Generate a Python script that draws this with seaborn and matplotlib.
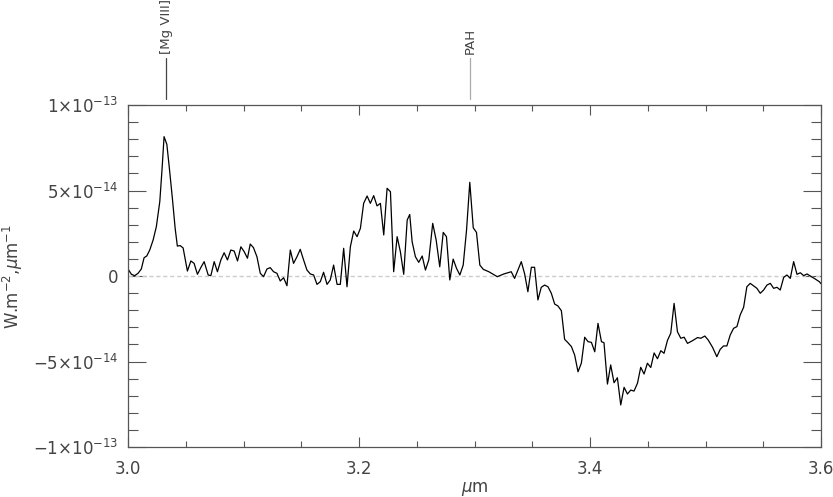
import matplotlib
matplotlib.use('Agg')
import matplotlib.pyplot as plt
import matplotlib.transforms as mtransforms
from matplotlib.ticker import MultipleLocator, FixedLocator, FormatStrFormatter
import seaborn as sns
import numpy as np

# spectrum (wavelength in um, flux in units of 1e-14 W m-2 um-1)
wave = [3.0000, 3.0029, 3.0058, 3.0087, 3.0115, 3.0139, 3.0162, 3.0188, 3.0217, 3.0245,
        3.0275, 3.0295, 3.0312, 3.0336, 3.0358, 3.0384, 3.0408, 3.0427, 3.0451, 3.0477,
        3.0514, 3.0544, 3.0572, 3.0601, 3.0630, 3.0659, 3.0694, 3.0717, 3.0746, 3.0774,
        3.0804, 3.0832, 3.0861, 3.0890, 3.0919, 3.0948, 3.0977, 3.1006, 3.1034, 3.1058,
        3.1086, 3.1116, 3.1145, 3.1173, 3.1203, 3.1231, 3.1260, 3.1289, 3.1318, 3.1347,
        3.1376, 3.1405, 3.1433, 3.1463, 3.1491, 3.1520, 3.1549, 3.1578, 3.1607, 3.1636,
        3.1665, 3.1693, 3.1723, 3.1751, 3.1780, 3.1810, 3.1838, 3.1867, 3.1896, 3.1925,
        3.1954, 3.1983, 3.2012, 3.2040, 3.2070, 3.2098, 3.2127, 3.2156, 3.2185, 3.2214,
        3.2243, 3.2272, 3.2300, 3.2330, 3.2358, 3.2387, 3.2417, 3.2439, 3.2460, 3.2488,
        3.2517, 3.2547, 3.2575, 3.2604, 3.2638, 3.2668, 3.2699, 3.2729, 3.2757, 3.2786,
        3.2815, 3.2844, 3.2873, 3.2902, 3.2931, 3.2959, 3.2989, 3.3017, 3.3046, 3.3076,
        3.3124, 3.3197, 3.3254, 3.3318, 3.3347, 3.3405, 3.3434, 3.3462, 3.3492, 3.3520,
        3.3549, 3.3578, 3.3607, 3.3636, 3.3665, 3.3694, 3.3722, 3.3752, 3.3780, 3.3809,
        3.3839, 3.3867, 3.3896, 3.3925, 3.3954, 3.3983, 3.4012, 3.4041, 3.4069, 3.4099,
        3.4121, 3.4151, 3.4179, 3.4208, 3.4237, 3.4266, 3.4295, 3.4324, 3.4353, 3.4381,
        3.4411, 3.4439, 3.4468, 3.4497, 3.4526, 3.4555, 3.4584, 3.4613, 3.4641, 3.4671,
        3.4699, 3.4728, 3.4757, 3.4786, 3.4815, 3.4844, 3.4888, 3.4931, 3.4960, 3.4994,
        3.5023, 3.5061, 3.5098, 3.5127, 3.5156, 3.5185, 3.5214, 3.5243, 3.5272, 3.5300,
        3.5330, 3.5358, 3.5387, 3.5417, 3.5445, 3.5474, 3.5503, 3.5532, 3.5561, 3.5590,
        3.5619, 3.5647, 3.5677, 3.5705, 3.5734, 3.5763, 3.5792, 3.5821, 3.5850, 3.5879,
        3.5907, 3.5942, 3.5985, 3.6000]
flux = [0.41, 0.10, 0.02, 0.16, 0.41, 1.07, 1.17, 1.52, 2.10, 2.88,
        4.35, 6.30, 8.15, 7.70, 6.30, 4.54, 2.79, 1.75, 1.78, 1.64,
        0.29, 0.88, 0.74, 0.10, 0.49, 0.84, 0.06, 0.02, 0.84, 0.25,
        0.94, 1.36, 0.94, 1.52, 1.46, 0.88, 1.71, 1.42, 1.04, 1.87,
        1.66, 1.13, 0.16, -0.04, 0.41, 0.49, 0.25, 0.16, -0.29, -0.10,
        -0.57, 1.52, 0.74, 1.13, 1.56, 0.94, 0.35, 0.12, 0.06, -0.49,
        -0.33, 0.22, -0.49, -0.23, 0.64, -0.49, -0.49, 1.62, -0.63, 1.71,
        2.63, 2.30, 2.79, 4.25, 4.68, 4.25, 4.70, 4.10, 4.25, 2.40,
        5.13, 4.93, 0.25, 2.30, 1.42, 0.10, 3.27, 3.60, 2.00, 1.13,
        0.80, 1.17, 0.35, 0.94, 3.08, 2.10, 0.54, 2.55, 2.30, -0.23,
        0.99, 0.45, 0.06, 0.64, 2.69, 5.48, 2.82, 2.55, 0.64, 0.39,
        0.25, -0.04, 0.12, 0.25, -0.14, 0.84, 0.12, -0.92, 0.51, 0.51,
        -1.40, -0.66, -0.53, -0.63, -1.01, -1.64, -1.75, -2.03, -3.70, -3.90,
        -4.13, -4.62, -5.60, -5.10, -3.58, -3.84, -3.88, -4.43, -2.77, -3.84,
        -3.90, -6.32, -5.20, -6.24, -5.95, -7.54, -6.51, -6.90, -6.67, -6.73,
        -6.27, -5.34, -5.73, -5.10, -5.35, -4.50, -4.84, -4.37, -4.52, -3.76,
        -3.35, -1.60, -3.26, -3.64, -3.58, -3.94, -3.78, -3.60, -3.64, -3.51,
        -3.74, -4.17, -4.72, -4.29, -4.09, -4.09, -3.45, -3.06, -2.96, -2.28,
        -1.83, -0.63, -0.43, -0.58, -0.72, -1.01, -0.82, -0.53, -0.43, -0.72,
        -0.66, -0.82, -0.08, 0.06, -0.14, 0.84, 0.10, 0.19, 0.02, 0.12,
        0.00, -0.14, -0.33, -0.45]
flux_scale = 1e-14

line_waves = [3.033, 3.296]
line_names = ['[Mg VIII]', 'PAH']
line_colors = ['#444444', '#aaaaaa']

xtick_vals = [3.0, 3.2, 3.4, 3.6]
ytick_vals = [-1e-13, -5e-14, 0, 5e-14, 1e-13]
ytick_text = [r'$-1{\times}10^{-13}$', r'$-5{\times}10^{-14}$', '0',
              r'$5{\times}10^{-14}$', r'$1{\times}10^{-13}$']

sns.set_style('ticks')
plt.rcParams['font.family'] = ['DejaVu Sans']
plt.rcParams['mathtext.fontset'] = 'dejavusans'
plt.rcParams['font.size'] = 12

txt_color = '#444444'
ax_color = '#555555'

fig = plt.figure(figsize=(8.33, 4.97), dpi=100)
ax = fig.add_axes([0.1537, 0.1006, 0.8319, 0.6881])

y = np.array(flux) * flux_scale
ax.axhline(0, color='#cccccc', lw=1, ls=(0, (3, 2)), zorder=1)
sns.lineplot(x=wave, y=y, ax=ax, color='black', lw=0.9, estimator=None, sort=False, zorder=2)

ax.set_xlim(3.0, 3.6)
ax.set_ylim(-1e-13, 1e-13)
ax.xaxis.set_major_locator(FixedLocator(xtick_vals))
ax.xaxis.set_major_formatter(FormatStrFormatter('%.1f'))
ax.xaxis.set_minor_locator(MultipleLocator(0.05))
ax.yaxis.set_major_locator(FixedLocator(ytick_vals))
ax.yaxis.set_minor_locator(MultipleLocator(1e-14))
ax.set_yticklabels(ytick_text)

ax.tick_params(axis='both', which='both', direction='in', top=True, right=True,
               colors=ax_color, labelcolor=txt_color, labelsize=12, width=0.8)
ax.tick_params(axis='x', which='major', length=7, pad=9)
ax.tick_params(axis='x', which='minor', length=4)
ax.tick_params(axis='y', which='major', length=13, pad=7)
ax.tick_params(axis='y', which='minor', length=7)
for sp in ax.spines.values():
    sp.set_color(ax_color)
    sp.set_linewidth(0.9)

ax.set_xlabel(r'$\mu$m', color=txt_color, fontsize=12, labelpad=2)
ax.set_ylabel(r'W.m$^{-2}$,$\mu$m$^{-1}$', color=txt_color, fontsize=12)
ax.yaxis.set_label_coords(-0.148, 0.5)

# line markers above the frame
trans = mtransforms.blended_transform_factory(ax.transData, ax.transAxes)
for xw, name, c in zip(line_waves, line_names, line_colors):
    ax.plot([xw, xw], [1.018, 1.137], color=c, lw=0.9, transform=trans, clip_on=False)
    ax.text(xw, 1.150, name, rotation=90, ha='center', va='bottom', fontsize=9.5,
            color=txt_color, transform=trans, clip_on=False)

fig.savefig('out.png', dpi=100)
plt.close(fig)
